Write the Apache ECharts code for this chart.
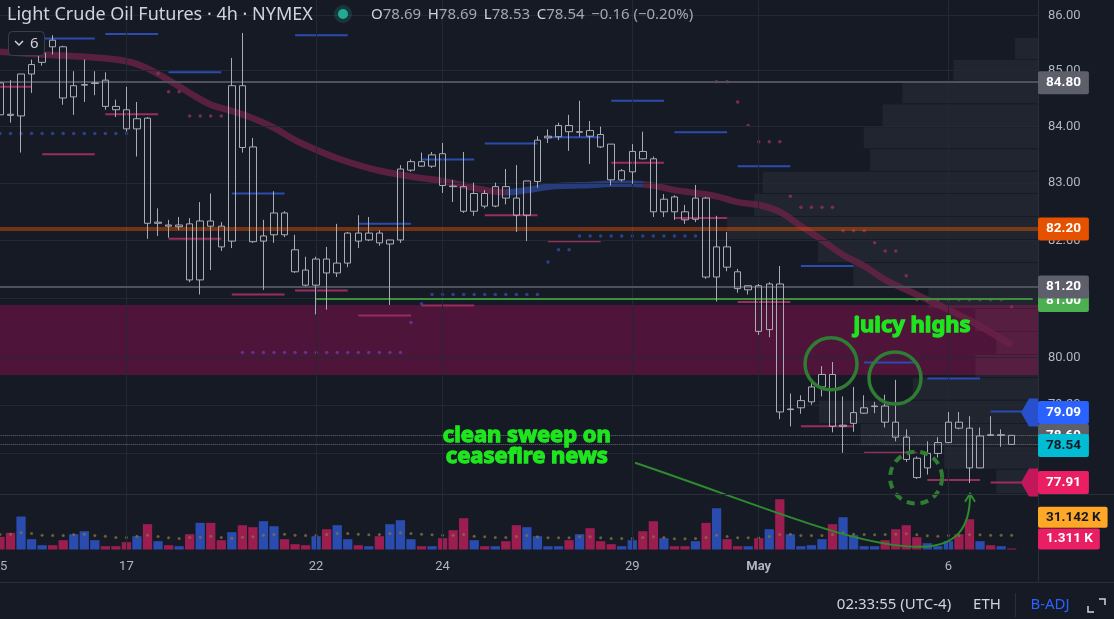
<!DOCTYPE html>
<html>
<head>
<meta charset="utf-8">
<script src="https://cdn.jsdelivr.net/npm/echarts@6.0.0/dist/echarts.min.js"></script>
<style>
html,body{margin:0;padding:0;background:#161a25;overflow:hidden}
#chart{width:1114px;height:619px}
</style>
</head>
<body>
<div id="chart"></div>
<script>
// ---------------- DATA ----------------
const sessionDays = ['Apr 15','Apr 16','Apr 17','Apr 18','Apr 19','Apr 22','Apr 23','Apr 24','Apr 25','Apr 26','Apr 29','Apr 30','May 1','May 2','May 3','May 6','May 7'];
const sessionHours = ['18:00','22:00','02:00','06:00','10:00','14:00'];
const categories = [];
sessionDays.forEach(d => sessionHours.forEach(h => categories.push(d + ' ' + h)));
categories.length = 99;

const tickIndex = [0, 12, 30, 42, 60, 72, 90];
const tickText  = ['15', '17', '22', '24', '29', 'May', '6'];
const priceTicks = [78.4, 79.2, 80, 81, 82, 83, 84, 85, 86];

const open = [
 84.78,84.22,84.19,84.94,85.15,85.55,85.43,84.53,84.74,84.77,
 84.83,84.36,84.30,83.96,84.15,82.30,82.27,82.24,82.29,81.32,
 82.34,82.25,81.99,84.73,83.64,81.99,82.10,82.48,81.84,81.49,
 81.23,81.68,81.44,81.61,82.13,82.01,82.13,81.94,82.01,83.23,
 83.38,83.30,83.52,82.95,82.94,82.51,82.82,82.60,82.94,82.74,
 82.44,83.03,83.80,83.82,84.02,83.90,83.93,83.86,83.69,83.06,
 83.20,83.56,83.43,82.50,82.76,82.50,82.37,82.74,81.37,81.89,
 81.46,81.15,81.22,80.47,81.25,79.12,79.15,79.25,79.50,79.71,
 78.84,78.89,79.06,79.17,79.18,78.91,78.66,78.31,78.15,78.39,
 78.57,78.91,78.81,78.15,78.70,78.69,78.69];
const high = [
 84.81,84.83,84.94,85.20,85.43,85.64,85.45,84.99,85.20,84.99,
 84.97,84.48,84.71,84.44,84.17,82.56,82.36,82.41,82.39,82.67,
 82.82,82.32,85.23,85.68,83.80,82.36,82.86,82.51,82.10,81.72,
 81.72,81.89,82.29,82.15,82.44,82.41,82.18,82.01,83.32,83.42,
 83.54,83.55,83.71,83.06,83.55,83.01,82.88,83.01,83.25,83.32,
 83.04,83.83,83.95,84.07,84.21,84.46,84.10,84.00,83.69,83.25,
 83.69,83.91,83.47,82.81,82.79,82.62,82.97,82.76,82.43,82.15,
 81.51,81.22,81.25,81.28,81.56,79.39,79.36,79.59,79.85,79.92,
 79.34,79.50,79.36,79.25,79.37,79.62,78.79,78.34,78.59,78.66,
 79.08,79.08,79.01,78.82,79.01,78.79,78.69];
const low = [
 84.14,84.07,83.54,84.60,85.09,85.29,84.39,84.21,84.44,84.56,
 84.30,84.17,83.91,83.47,82.03,82.08,82.05,82.18,81.28,81.07,
 81.49,81.82,81.87,83.54,81.96,81.15,81.96,82.06,81.44,81.21,
 80.73,80.81,81.37,81.54,81.87,81.99,81.91,80.89,81.96,83.20,
 83.29,83.27,82.83,82.67,82.48,82.43,82.56,82.58,82.63,82.15,
 81.99,82.92,83.71,83.76,83.57,83.82,83.34,83.62,82.96,83.03,
 82.99,83.42,82.41,82.41,82.36,82.29,82.32,81.34,80.95,81.47,
 81.10,81.07,80.38,80.34,78.96,78.84,79.05,79.20,79.34,78.74,
 78.40,78.75,79.05,79.06,78.82,78.59,78.25,77.97,78.04,78.32,
 78.56,78.79,77.90,78.15,78.68,78.50,78.53];
const close = [
 84.21,84.20,84.94,85.11,85.32,85.43,84.51,84.73,84.75,84.78,
 84.36,84.30,83.96,84.14,82.30,82.32,82.25,82.27,81.32,82.34,
 82.25,81.89,84.73,83.63,81.98,82.08,82.48,82.10,81.46,81.23,
 81.68,81.44,81.61,82.13,81.99,82.13,81.96,82.01,83.25,83.38,
 83.30,83.50,82.96,82.94,82.51,82.82,82.60,82.94,82.74,82.44,
 83.04,83.76,83.83,84.02,83.91,83.91,83.83,83.64,83.06,83.22,
 83.56,83.43,82.50,82.72,82.50,82.36,82.74,81.37,81.89,81.54,
 81.17,81.22,80.44,81.25,79.08,79.13,79.27,79.50,79.71,78.84,
 78.86,79.07,79.15,79.18,78.91,78.66,78.29,77.99,78.39,78.57,
 78.91,78.81,78.15,78.68,78.69,78.70,78.54];

// volume in thousands of contracts
const volume = [
 27.9,36.7,72.6,22.7,9.5,9.5,20.5,33.7,40.3,20.5,
 7.3,7.3,16.1,29.3,55.7,18.3,9.5,7.3,33.7,58.7,
 58.7,20.5,38.1,53.5,49.1,62.3,51.3,22.7,11.7,9.5,
 29.3,44.7,53.5,22.7,9.5,7.3,29.3,55.7,64.5,22.7,
 7.3,7.3,24.9,42.5,68.9,20.5,7.3,7.3,18.3,53.5,
 49.1,29.3,7.3,7.3,20.5,33.7,46.9,18.3,11.7,7.3,
 20.5,40.3,62.3,24.9,7.3,7.3,18.3,58.7,90.9,22.7,
 7.3,7.3,24.9,44.7,110.7,33.7,7.3,9.5,22.7,55.7,
 71.1,31.5,7.3,7.3,20.5,44.7,53.5,27.1,13.9,7.3,
 18.3,33.7,66.7,18.3,9.5,7.3,1.311];
const volumeMA = [
 33.0,33.7,36.7,35.2,31.5,30.8,30.8,33.0,33.7,30.8,
 29.3,26.4,26.4,29.3,31.5,28.6,25.7,24.2,26.4,27.1,
 29.3,26.4,24.9,27.1,27.9,31.5,33.0,33.7,31.5,30.8,
 31.5,33.0,35.2,35.2,33.7,32.3,33.0,35.2,36.7,35.2,
 33.7,32.3,31.5,31.5,33.0,29.3,27.9,26.4,26.4,28.6,
 30.8,27.9,25.7,25.7,25.7,27.9,27.9,25.7,24.2,24.2,
 24.2,26.4,27.9,26.4,23.5,23.5,24.2,26.4,31.5,28.6,
 25.7,25.7,25.7,28.6,33.0,33.7,30.8,30.8,30.8,33.0,
 36.7,33.7,33.0,32.3,33.0,33.7,34.5,32.3,30.1,29.3,
 30.8,30.8,33.0,32.3,31.5,31.2,31.142];

// moving average [candle index, price]
const maPoints = [[0,85.34],[4,85.29],[8,85.25],[12,85.17],[14,85.04],[16,84.83],[18,84.60],[20,84.39],[22,84.28],[24,84.15],[26,83.98],[28,83.76],[30,83.59],[32,83.44],[34,83.32],[36,83.22],[38,83.15],[40,83.09],[42,83.04],[44,82.96],[46,82.88],[48,82.84],[50,82.88],[52,82.94],[54,82.96],[56,82.97],[58,82.99],[60,82.99],[62,82.96],[64,82.88],[66,82.83],[68,82.77],[70,82.67],[72,82.62],[74,82.50],[76,82.25],[78,82.01],[80,81.75],[82,81.56],[84,81.32],[86,81.15],[88,80.98],[90,80.81],[92,80.63],[94,80.42],[96,80.21]];
const maRisingRange = [48, 61];

// session high / low levels [from index, to index, price]
const levelHighs = [[4,9,85.58],[10,15,85.66],[16,21,84.97],[22,27,82.82],[28,33,85.64],[34,39,82.29],[40,45,83.42],[46,51,83.70],[52,57,83.81],[58,63,84.46],[64,69,83.90],[70,75,83.30],[76,81,81.56],[82,87,79.91],[88,93,79.64],[94,98,79.09]];
const levelLows = [[0,3,84.71],[4,9,83.51],[10,15,84.22],[16,21,82.03],[22,27,81.07],[28,33,81.14],[34,39,80.71],[40,45,80.88],[46,51,82.44],[52,57,81.99],[58,63,83.36],[64,69,82.39],[70,75,80.94],[76,81,78.84],[82,87,78.40],[88,93,77.95],[94,98,77.91]];

// trailing dots [from index, to index, price]
const dotsBlueRuns = [[0,12,83.88],[40,40,80.91],[41,51,81.07],[52,52,81.63],[53,54,81.84],[55,66,82.08]];
const dotsRedRuns = [[15,15,84.95],[16,17,84.62],[18,21,84.19],[68,69,84.80],[70,70,84.44],[71,71,84.02],[72,74,83.73],[75,75,82.77],[76,79,82.58],[80,82,82.17],[83,83,81.96],[84,85,81.82],[86,86,81.39],[87,95,80.98],[96,96,80.86]];
const dotsPurpleRuns = [[23,38,80.08],[39,39,80.59]];

// supply zone [low, high]
const zone = [79.70, 80.89];

// visible-range volume profile rows [price low, price high, volume]
const vpRows = [[85.19,85.59,22],[84.80,85.19,81],[84.40,84.80,130],[83.99,84.40,149],[83.60,83.99,167],[83.20,83.60,161],[82.81,83.20,264],[82.41,82.81,272],[82.01,82.41,298],[81.61,82.01,211],[81.20,81.61,177],[80.82,81.20,105],[80.43,80.82,60],[80.04,80.43,40],[79.65,80.04,60],[79.27,79.65,120],[78.88,79.27,210],[78.50,78.88,170],[78.12,78.50,90],[77.72,78.12,40]];

// horizontal reference lines
const refLevels = [84.80, 82.20, 81.20, 78.69, 78.54];
const greenLevel = 81.00, greenFrom = 30;

// right-scale price tags
const tagValues = [84.80, 82.20, 81.00, 81.20, 78.69, 79.09, 78.54, 77.91];
const volTagValues = [31.142, 1.311];

// annotations [candle index, price]
const juicyAt = [86.55, 80.53];
const sweepAt = [50.0, 78.51];
const highCircles = [[78.86, 79.89], [84.93, 79.65]];
const sweepCircle = [86.93, 77.99];
const sweepCurve = [[60.26,78.235],[72.12,77.544],[81.61,76.81],[87.78,76.859],[90.63,76.891],[92.05,77.135],[92.05,77.708]];

// ---------------- STYLE ----------------
const BG = '#161a25', GRIDC = '#242833', TXT = '#b2b5be';
const FONT = 'Roboto, "Noto Sans", sans-serif';
const UP = '#2a4cae', DOWN = '#9c1e50';
const refStyles = [
  {color:'#4f525d', width:2, type:'solid'},
  {color:'rgba(230,81,0,0.45)', width:4, type:'solid'},
  {color:'#4f525d', width:2, type:'solid'},
  {color:'#6b6e78', width:1, type:'dotted'},
  {color:'#6b6e78', width:1, type:'dotted'}
];
const tagBg = ['#5d606b','#e65100','#4caf50','#5d606b','#5d606b','#2962ff','#00bcd4','#e91e63'];
const tagFg = ['#ffffff','#ffffff','#ffffff','#ffffff','#ffffff','#ffffff','#131722','#ffffff'];
const tagDy = [1, 0, 2, 0, 0, 1, 1, 0];
const tagArrow = [false,false,false,false,false,'#2850cc',false,'#c2185b'];
const volTagBg = ['#ffa726','#e91e63'], volTagFg = ['#131722','#ffffff'], volTagDy = [-18, -10];

// ---------------- BUILD ----------------
const runsToPoints = runs => runs.flatMap(([a,b,v]) => { const r = []; for (let i = a; i <= b; i++) r.push([i, v]); return r; });
const candleData = open.map((o, i) => [o, close[i], low[i], high[i]]);
const volData = volume.map((v, i) => ({value: v, itemStyle: {color: close[i] >= open[i] ? UP : DOWN}}));

const hGrid = priceTicks.map(v => ({
  yAxis: v, lineStyle: {color: GRIDC, width: 1, type: 'solid'},
  label: {show: true, position: 'end', distance: 10, formatter: v.toFixed(2), color: TXT, fontSize: 13, fontFamily: FONT}
}));
const vGrid = tickIndex.filter(i => i > 0).map(i => ({xAxis: i, lineStyle: {color: GRIDC, width: 1, type: 'solid'}, label: {show: false}}));

const refLines = refLevels.map((v, k) => ({yAxis: v, lineStyle: refStyles[k]}));
const greenStyle = {color:'#3f8f3f', width:2, type:'solid'};
refLines.push([{coord:[greenFrom, greenLevel], lineStyle: greenStyle}, {coord:[98, greenLevel], lineStyle: greenStyle}]);

function levelRenderer(color) {
  return (params, api) => {
    const s = api.coord([api.value(0), api.value(2)]);
    const e = api.coord([api.value(1), api.value(2)]);
    return {type: 'line', shape: {x1: s[0], y1: s[1], x2: e[0], y2: e[1]}, style: {stroke: color, lineWidth: 2}};
  };
}

const option = {
  backgroundColor: BG,
  animation: false,
  grid: [
    {left: -5.3, right: 76, top: 0, height: 494, containLabel: false, outerBoundsMode: 'none'},
    {left: -5.3, right: 76, top: 495, height: 54.5, containLabel: false, outerBoundsMode: 'none'}
  ],
  xAxis: [
    {type: 'category', gridIndex: 0, data: categories, show: false},
    {type: 'category', gridIndex: 1, data: categories,
     axisLine: {show: false}, axisTick: {show: false}, splitLine: {show: false},
     axisLabel: {
       margin: 11, color: TXT, fontSize: 13, fontFamily: FONT,
       interval: (i) => tickIndex.indexOf(i) >= 0,
       formatter: (val, i) => { const k = tickIndex.indexOf(i); if (k < 0) return ''; const t = tickText[k]; return /[A-Za-z]/.test(t) ? '{b|' + t + '}' : t; },
       rich: {b: {fontWeight: 'bold', color: TXT, fontSize: 13, fontFamily: FONT}}
     }},
    {type: 'value', gridIndex: 0, inverse: true, min: 0, max: 1000, show: false}
  ],
  yAxis: [
    {type: 'log', logBase: 10, gridIndex: 0, min: 77.72, max: 86.28, position: 'right', show: false},
    {type: 'value', gridIndex: 1, min: 0, max: 120, show: false}
  ],
  visualMap: [{
    type: 'piecewise', show: false, seriesIndex: 3, dimension: 0,
    pieces: [
      {lt: maRisingRange[0], color: '#6a2146'},
      {gte: maRisingRange[0], lte: maRisingRange[1], color: '#2a4593'},
      {gt: maRisingRange[1], color: '#6a2146'}
    ]
  }],
  series: [
    {type: 'line', xAxisIndex: 0, yAxisIndex: 0, data: [], z: 0, silent: true,
     markLine: {silent: true, symbol: ['none','none'], animation: false, data: hGrid.concat(vGrid)}},
    {type: 'line', xAxisIndex: 0, yAxisIndex: 0, data: [], z: 1, silent: true,
     markArea: {silent: true, itemStyle: {color: 'rgba(136,14,79,0.5)'}, data: [[{yAxis: zone[1]}, {yAxis: zone[0]}]]},
     markLine: {silent: true, symbol: ['none','none'], animation: false, label: {show: false}, data: refLines}},
    {type: 'custom', xAxisIndex: 2, yAxisIndex: 0, z: 1, silent: true, data: vpRows, encode: {x: 2, y: [0, 1]},
     renderItem: (params, api) => {
       const a = api.coord([api.value(2), api.value(1)]);
       const b = api.coord([0, api.value(0)]);
       return {type: 'rect', shape: {x: a[0], y: a[1], width: b[0] - a[0], height: b[1] - a[1] - 1}, style: {fill: 'rgba(178,181,190,0.07)'}};
     }},
    {type: 'line', xAxisIndex: 0, yAxisIndex: 0, data: maPoints, smooth: 0.4, symbol: 'none', z: 2, silent: true,
     lineStyle: {width: 6.5, opacity: 0.8}},
    {type: 'custom', xAxisIndex: 0, yAxisIndex: 0, z: 3, silent: true, data: levelHighs, encode: {x: [0, 1], y: 2}, renderItem: levelRenderer('#2b4cae')},
    {type: 'custom', xAxisIndex: 0, yAxisIndex: 0, z: 3, silent: true, data: levelLows, encode: {x: [0, 1], y: 2}, renderItem: levelRenderer('#9b2c5e')},
    {type: 'scatter', xAxisIndex: 0, yAxisIndex: 0, z: 3, silent: true, symbolSize: 3.5, data: runsToPoints(dotsBlueRuns), itemStyle: {color: '#2d4ea6'}},
    {type: 'scatter', xAxisIndex: 0, yAxisIndex: 0, z: 3, silent: true, symbolSize: 3.5, data: runsToPoints(dotsRedRuns), itemStyle: {color: '#8e3355'}},
    {type: 'scatter', xAxisIndex: 0, yAxisIndex: 0, z: 3, silent: true, symbolSize: 3.5, data: runsToPoints(dotsPurpleRuns), itemStyle: {color: '#6a3aa0'}},
    {type: 'candlestick', xAxisIndex: 0, yAxisIndex: 0, z: 5, silent: true, data: candleData, barWidth: 7,
     itemStyle: {color: 'rgba(0,0,0,0)', color0: 'rgba(0,0,0,0)', borderColor: '#a9acb5', borderColor0: '#a9acb5', borderColorDoji: '#a9acb5', borderWidth: 1}},
    {type: 'line', xAxisIndex: 1, yAxisIndex: 1, data: [], z: 0, silent: true,
     markLine: {silent: true, symbol: ['none','none'], animation: false, data: vGrid}},
    {type: 'bar', xAxisIndex: 1, yAxisIndex: 1, z: 2, silent: true, data: volData, barWidth: '88%', barMinHeight: 1},
    {type: 'scatter', xAxisIndex: 1, yAxisIndex: 1, z: 3, silent: true, symbolSize: 3, data: volumeMA, itemStyle: {color: '#85703f'}}
  ]
};

const chart = echarts.init(document.getElementById('chart'));
chart.setOption(option);

// ---------------- OVERLAY (tags, annotations, chrome) ----------------
function P(idx, price) {
  const i0 = Math.floor(idx), f = idx - i0;
  const a = chart.convertToPixel({xAxisIndex: 0, yAxisIndex: 0}, [i0, price]);
  const b = chart.convertToPixel({xAxisIndex: 0, yAxisIndex: 0}, [i0 + 1, price]);
  return [a[0] + f * (b[0] - a[0]), a[1]];
}
const Y = v => chart.convertToPixel({yAxisIndex: 0}, v);
const YV = v => chart.convertToPixel({yAxisIndex: 1}, v);
const AX = 1038;
const g = [];
const tfont = 'bold 13.5px Roboto';

// chrome lines
g.push({type:'line', z:90, shape:{x1:0,y1:494.5,x2:1114,y2:494.5}, style:{stroke:'#2a2e39', lineWidth:1}});
g.push({type:'line', z:90, shape:{x1:0,y1:582.5,x2:1114,y2:582.5}, style:{stroke:'#2a2e39', lineWidth:1}});
g.push({type:'line', z:90, shape:{x1:AX+0.5,y1:0,x2:AX+0.5,y2:582}, style:{stroke:'#2a2e39', lineWidth:1}});

// price tags
tagValues.forEach((v, k) => {
  const y = Y(v) + tagDy[k];
  if (tagArrow[k]) {
    g.push({type:'polygon', z:95, shape:{points:[[AX-17,y],[AX-9,y-14],[AX,y-14],[AX,y+14],[AX-9,y+14]]}, style:{fill:tagArrow[k]}});
  }
  g.push({type:'text', z:100, x:AX, y:y, style:{text:v.toFixed(2), font:tfont, fill:tagFg[k], backgroundColor:tagBg[k], padding:[5,8,4,8], borderRadius:2, align:'left', verticalAlign:'middle', textAlign:'left', textVerticalAlign:'middle'}});
});
volTagValues.forEach((v, k) => {
  const y = YV(v) + volTagDy[k];
  g.push({type:'text', z:100, x:AX, y:y, style:{text:v.toFixed(3) + ' K', font:tfont, fill:volTagFg[k], backgroundColor:volTagBg[k], padding:[4,7,3,8], borderRadius:2, align:'left', verticalAlign:'middle', textAlign:'left', textVerticalAlign:'middle'}});
});

// annotations
const GREEN_TXT = '#1ee51e', GREEN_LN = '#2e7d32';
highCircles.forEach(c => { const p = P(c[0], c[1]); g.push({type:'circle', z:60, shape:{cx:p[0], cy:p[1], r:26}, style:{fill:'transparent', stroke:GREEN_LN, lineWidth:3.5}}); });
(() => { const p = P(sweepCircle[0], sweepCircle[1]); g.push({type:'circle', z:60, shape:{cx:p[0], cy:p[1], r:26}, style:{fill:'transparent', stroke:GREEN_LN, lineWidth:4, lineDash:[8,6]}}); })();
(() => {
  const c = sweepCurve.map(q => P(q[0], q[1]));
  g.push({type:'bezierCurve', z:60, shape:{x1:c[0][0],y1:c[0][1],cpx1:c[1][0],cpy1:c[1][1],cpx2:c[2][0],cpy2:c[2][1],x2:c[3][0],y2:c[3][1]}, style:{stroke:'#2e8b2e', lineWidth:2, fill:'transparent'}});
  g.push({type:'bezierCurve', z:60, shape:{x1:c[3][0],y1:c[3][1],cpx1:c[4][0],cpy1:c[4][1],cpx2:c[5][0],cpy2:c[5][1],x2:c[6][0],y2:c[6][1]}, style:{stroke:'#2e8b2e', lineWidth:2, fill:'transparent'}});
  const e = c[6];
  g.push({type:'polyline', z:60, shape:{points:[[e[0]-5,e[1]+7],[e[0],e[1]-1],[e[0]+5,e[1]+7]]}, style:{stroke:'#2e8b2e', lineWidth:2, fill:'transparent'}});
})();
const annoStyle = {font:'bold 22px "Noto Sans"', fill:GREEN_TXT, stroke:GREEN_TXT, lineWidth:1.3, align:'center', verticalAlign:'middle', textAlign:'center', textVerticalAlign:'middle'};
(() => { const p = P(juicyAt[0], juicyAt[1]); g.push({type:'text', z:70, x:p[0], y:p[1], style:Object.assign({text:'juicy highs'}, annoStyle)}); })();
(() => { const p = P(sweepAt[0], sweepAt[1]); g.push({type:'text', z:70, x:p[0], y:p[1], style:Object.assign({text:'clean sweep on\nceasefire news', lineHeight:21}, annoStyle)}); })();

// header
const last = open.length - 1;
const chg = close[last] - close[last - 1];
const pct = chg / close[last - 1] * 100;
const sgn = x => (x < 0 ? '\u2212' : '+') + Math.abs(x).toFixed(2);
g.push({type:'text', z:100, x:7, y:15, style:{text:'Light Crude Oil Futures \u00b7 4h \u00b7 NYMEX', font:'18px "Noto Sans"', fill:'#d1d4dc', verticalAlign:'middle', textVerticalAlign:'middle'}});
g.push({type:'circle', z:100, shape:{cx:343, cy:14, r:9}, style:{fill:'rgba(34,171,148,0.2)'}});
g.push({type:'circle', z:100, shape:{cx:343, cy:14, r:5}, style:{fill:'#22ab94'}});
g.push({type:'text', z:100, x:371, y:15, style:{
  text: '{l|O}{v|' + open[last].toFixed(2) + '}  {l|H}{v|' + high[last].toFixed(2) + '}  {l|L}{v|' + low[last].toFixed(2) + '}  {l|C}{v|' + close[last].toFixed(2) + '}  {v|' + sgn(chg) + ' (' + sgn(pct) + '%)}',
  verticalAlign:'middle', textVerticalAlign:'middle',
  rich:{l:{fill:'#d1d4dc', fontSize:15, fontFamily:'"Noto Sans"'}, v:{fill:'#a4a7b0', fontSize:15, fontFamily:'"Noto Sans"'}}
}});
g.push({type:'rect', z:100, shape:{x:8.5, y:31.5, width:36, height:24, r:4}, style:{fill:BG, stroke:'#3a3e4a', lineWidth:1}});
g.push({type:'polyline', z:101, shape:{points:[[15,41],[19,45],[23,41]]}, style:{stroke:'#d1d4dc', lineWidth:1.5, fill:'transparent'}});
g.push({type:'text', z:101, x:30, y:44, style:{text:'6', font:'15px "Noto Sans"', fill:'#d1d4dc', verticalAlign:'middle', textVerticalAlign:'middle'}});

// status bar
g.push({type:'text', z:100, x:894, y:605, style:{text:'02:33:55 (UTC-4)', font:'15px "Noto Sans"', fill:'#d1d4dc', align:'center', verticalAlign:'middle', textAlign:'center', textVerticalAlign:'middle'}});
g.push({type:'text', z:100, x:987, y:605, style:{text:'ETH', font:'15px "Noto Sans"', fill:'#d1d4dc', align:'center', verticalAlign:'middle', textAlign:'center', textVerticalAlign:'middle'}});
g.push({type:'line', z:100, shape:{x1:1015.5, y1:593, x2:1015.5, y2:617}, style:{stroke:'#2a2e39', lineWidth:1}});
g.push({type:'text', z:100, x:1050, y:605, style:{text:'B-ADJ', font:'15px "Noto Sans"', fill:'#2962ff', align:'center', verticalAlign:'middle', textAlign:'center', textVerticalAlign:'middle'}});
g.push({type:'polyline', z:100, shape:{points:[[1099,599],[1105,599],[1105,605]]}, style:{stroke:'#d1d4dc', lineWidth:1.5, fill:'transparent'}});
g.push({type:'polyline', z:100, shape:{points:[[1088,606],[1088,612],[1094,612]]}, style:{stroke:'#d1d4dc', lineWidth:1.5, fill:'transparent'}});

chart.setOption({graphic: g});
</script>
</body>
</html>
